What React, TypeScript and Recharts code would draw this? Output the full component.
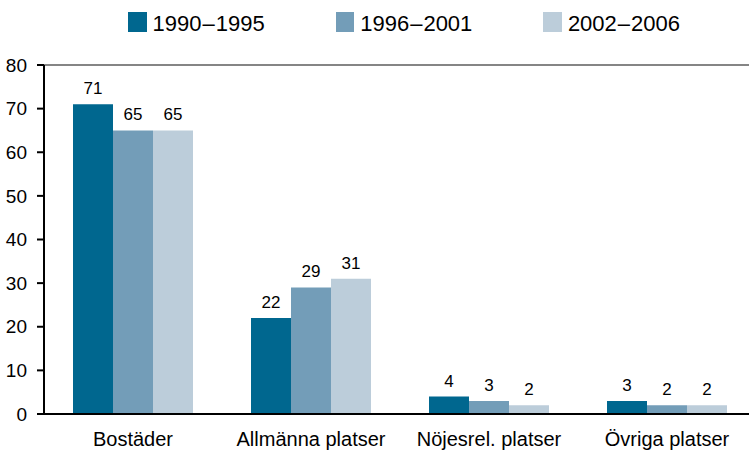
import React from 'react';
import { BarChart, Bar, XAxis, YAxis, LabelList, ReferenceLine, Legend } from 'recharts';

const categories = ['Bostäder', 'Allmänna platser', 'Nöjesrel. platser', 'Övriga platser'];
const series1990 = [71, 22, 4, 3];
const series1996 = [65, 29, 3, 2];
const series2002 = [65, 31, 2, 2];
const seriesNames = ['1990–1995', '1996–2001', '2002–2006'];
const seriesKeys = ['s1', 's2', 's3'];
const seriesColors = ['#00678f', '#739db8', '#bccdda'];
const yTicks = [0, 10, 20, 30, 40, 50, 60, 70, 80];

const data = categories.map((name, i) => ({
  name,
  s1: series1990[i],
  s2: series1996[i],
  s3: series2002[i],
}));

const FONT = "'Liberation Sans', Arial, Helvetica, sans-serif";

const renderLegend = (props: any) => {
  const payload: any[] = props.payload || [];
  return (
    <div style={{ display: 'flex', paddingLeft: 128, paddingTop: 12, fontFamily: FONT }}>
      {payload.map((p: any, i: number) => {
        const parts = String(p.value).split('–');
        return (
          <div key={i} style={{ display: 'flex', alignItems: 'flex-start', width: 207.7 }}>
            <div style={{ width: 18.5, height: 19.5, background: p.color, marginRight: 6 }} />
            <div style={{ fontSize: 22, lineHeight: '19px', marginTop: 2, color: '#000', whiteSpace: 'nowrap' }}>
              {parts[0]}
              <span style={{ margin: '0 1px' }}>–</span>
              {parts[1]}
            </div>
          </div>
        );
      })}
    </div>
  );
};

export default function App() {
  return (
    <div
      style={{
        position: 'fixed',
        left: 0,
        top: 0,
        width: 749,
        height: 452,
        overflow: 'hidden',
        background: '#fff',
        fontFamily: FONT,
      }}
    >
      <BarChart
        width={756}
        height={452}
        data={data}
        margin={{ top: 65, right: 0, bottom: 0, left: 0 }}
        barCategoryGap={29}
        barGap={0}
      >
        <Legend
          layout="horizontal"
          verticalAlign="middle"
          align="center"
          content={renderLegend}
          wrapperStyle={{ top: 0, left: 0, width: 756, height: 40 }}
        />
        <ReferenceLine y={80} stroke="#858585" strokeWidth={2} />
        <XAxis
          dataKey="name"
          interval={0}
          height={38}
          tickLine={false}
          axisLine={{ stroke: '#000', strokeWidth: 2 }}
          tickMargin={12}
          tick={{ fontSize: 20, fill: '#000' }}
        />
        <YAxis
          width={44}
          domain={[0, 80]}
          ticks={yTicks}
          interval={0}
          axisLine={{ stroke: '#000', strokeWidth: 2 }}
          tickLine={{ stroke: '#000', strokeWidth: 2 }}
          tickSize={7}
          tickMargin={10}
          tick={{ fontSize: 19, fill: '#000' }}
        />
        {seriesKeys.map((k, i) => (
          <Bar key={k} dataKey={k} name={seriesNames[i]} fill={seriesColors[i]} isAnimationActive={false}>
            <LabelList dataKey={k} position="top" offset={10} fill="#000" fontSize={17} />
          </Bar>
        ))}
      </BarChart>
    </div>
  );
}
